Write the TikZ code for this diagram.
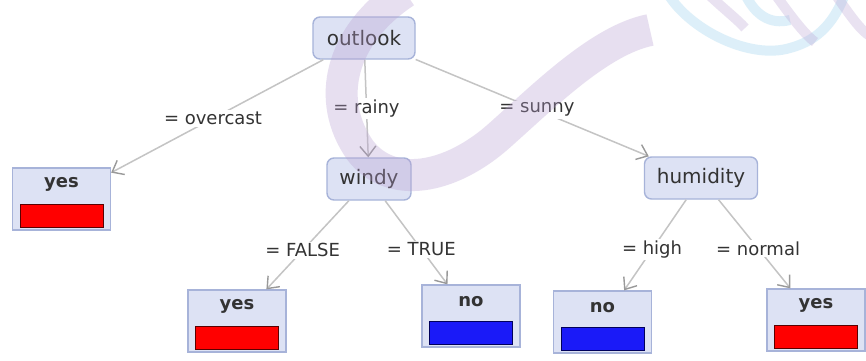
\documentclass[tikz,border=0pt]{standalone}
\usepackage{fontspec}
\setmainfont{DejaVu Sans}
\usetikzlibrary{arrows.meta}

\definecolor{nodefill}{HTML}{DDE2F4}
\definecolor{nodeedge}{HTML}{A7B3D9}
\definecolor{edgegray}{HTML}{C4C4C4}
\definecolor{tipgray}{HTML}{999999}
\definecolor{txt}{HTML}{333333}
\definecolor{yesred}{HTML}{FF0000}
\definecolor{yesredline}{HTML}{5A0000}
\definecolor{noblue}{HTML}{1A1AF8}
\definecolor{noblueline}{HTML}{00005A}
\definecolor{ribbonpurple}{HTML}{B9A0D2}
\definecolor{ribbonblue}{HTML}{9ED4EE}

\tikzset{
  attr/.style={draw=nodeedge, fill=nodefill, line width=1.4pt, rounded corners=7pt,
    font=\fontsize{20}{24}\selectfont, text=txt, inner sep=0pt, minimum height=42pt},
  leafbox/.style={draw=nodeedge, fill=nodefill, line width=1.3pt, inner sep=0pt,
    minimum width=98pt, minimum height=62pt},
  leaftext/.style={font=\bfseries\fontsize{18}{21}\selectfont, text=txt, inner sep=0pt},
  redbar/.style={draw=yesredline, fill=yesred, line width=1pt, inner sep=0pt,
    minimum width=83pt, minimum height=23pt},
  bluebar/.style={draw=noblueline, fill=noblue, line width=1pt, inner sep=0pt,
    minimum width=83pt, minimum height=23pt},
  branch/.style={draw=edgegray, line width=1.5pt,
    -{Straight Barb[length=10pt,width=16pt,line width=1.4pt,color=tipgray]}},
  cond/.style={fill=white, inner sep=2pt, font=\fontsize{18}{21}\selectfont, text=txt},
  ribbon/.style={line width=32pt, draw=ribbonpurple, opacity=0.33},
  coilP/.style={line width=10pt, draw=ribbonpurple, opacity=0.3},
  coilB/.style={line width=10pt, draw=ribbonblue, opacity=0.35}
}

% leaf: box, class label, coloured bar
\newcommand{\leafnode}[5]{%
  \node[leafbox] (#1) at (#2,#3) {};
  \node[leaftext] (#1-label) at ([yshift=-17pt]#1.north) {#4};
  \node[#5] (#1-bar) at ([yshift=15pt]#1.south) {};
}

\begin{document}
\begin{tikzpicture}[x=1pt,y=-1pt]
  \path[use as bounding box, fill=white] (0,0) rectangle (866,360);

  % inner test nodes
  \node[attr, minimum width=102pt] (outlook) at (364,38) {outlook};
  \node[attr, minimum width=84pt] (windy) at (369,179) {windy};
  \node[attr, minimum width=113pt] (humidity) at (701,178) {humidity};

  % leaves
  \leafnode{yesA}{61.5}{199}{yes}{redbar}
  \leafnode{yesB}{237}{321}{yes}{redbar}
  \leafnode{noA}{471}{316}{no}{bluebar}
  \leafnode{noB}{602.5}{322}{no}{bluebar}
  \leafnode{yesC}{816}{320}{yes}{redbar}

  % branches
  \draw[branch] (outlook) -- node[cond, pos=0.52] {= overcast} (yesA);
  \draw[branch] (outlook) -- node[cond, pos=0.5] {= rainy} (windy);
  \draw[branch] (outlook) -- node[cond, pos=0.52] {= sunny} (humidity);
  \draw[branch] (windy) -- node[cond, pos=0.56] {= FALSE} (yesB);
  \draw[branch] (windy) -- node[cond, pos=0.58] {= TRUE} (noA);
  \draw[branch] (humidity) -- node[cond, pos=0.55] {= high} (noB);
  \draw[branch] (humidity) -- node[cond, pos=0.55] {= normal} (yesC);

  % ribbon watermark
  \draw[ribbon] (405,-8) .. controls (340,35) and (325,100) .. (360,150)
    .. controls (390,190) and (450,180) .. (500,135)
    .. controls (545,95) and (600,40) .. (650,30);
  \draw[coilB] (668,-6) .. controls (690,30) and (750,60) .. (790,48)
    .. controls (820,40) and (835,20) .. (845,-6);
  \draw[coilB] (745,-6) .. controls (755,15) and (770,25) .. (790,20);
  \draw[coilP] (708,-6) .. controls (725,10) and (738,20) .. (745,28);
  \draw[coilP] (775,-6) .. controls (790,15) and (805,35) .. (815,42);
  \draw[coilP] (835,-6) .. controls (850,15) and (860,30) .. (870,36);
\end{tikzpicture}
\end{document}
